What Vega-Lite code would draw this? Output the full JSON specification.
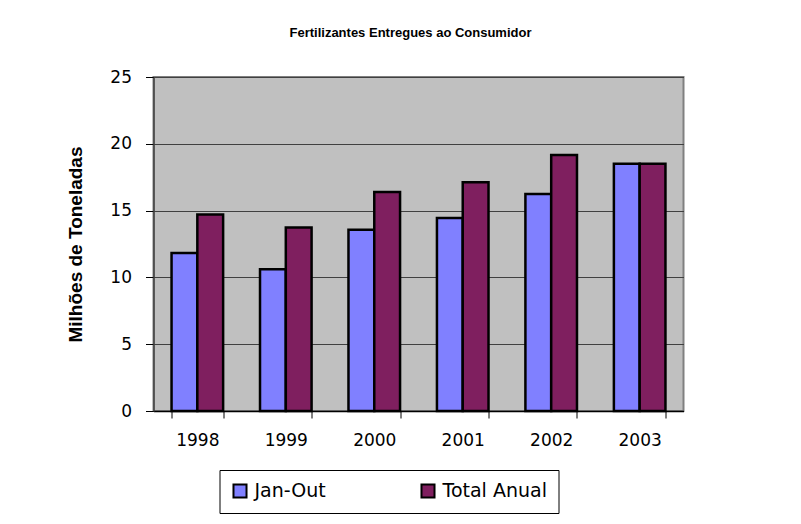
{
  "$schema": "https://vega.github.io/schema/vega-lite/v6.json",
  "width": 530,
  "height": 334,
  "autosize": "none",
  "padding": {"left": 153.5, "top": 77, "right": 117.5, "bottom": 113},
  "background": "white",
  "title": {
    "text": "Fertilizantes Entregues ao Consumidor",
    "font": "Liberation Sans",
    "fontSize": 13,
    "fontWeight": "bold",
    "color": "black",
    "anchor": "middle",
    "offset": 28,
    "dx": -8
  },
  "data": {
    "values": [
      {"ano": "1998", "serie": "Jan-Out", "valor": 11.83},
      {"ano": "1998", "serie": "Total Anual", "valor": 14.70},
      {"ano": "1999", "serie": "Jan-Out", "valor": 10.61},
      {"ano": "1999", "serie": "Total Anual", "valor": 13.73},
      {"ano": "2000", "serie": "Jan-Out", "valor": 13.56},
      {"ano": "2000", "serie": "Total Anual", "valor": 16.40},
      {"ano": "2001", "serie": "Jan-Out", "valor": 14.45},
      {"ano": "2001", "serie": "Total Anual", "valor": 17.12},
      {"ano": "2002", "serie": "Jan-Out", "valor": 16.25},
      {"ano": "2002", "serie": "Total Anual", "valor": 19.17},
      {"ano": "2003", "serie": "Jan-Out", "valor": 18.50},
      {"ano": "2003", "serie": "Total Anual", "valor": 18.50}
    ]
  },
  "mark": {"type": "bar", "stroke": "black", "strokeWidth": 2.5},
  "encoding": {
    "x": {
      "field": "ano",
      "type": "nominal",
      "scale": {"paddingInner": 0.417, "paddingOuter": 0.204},
      "axis": {
        "title": null,
        "labelAngle": 0,
        "tickBand": "extent",
        "labelFont": "DejaVu Sans",
        "labelFontSize": 17,
        "labelColor": "black",
        "labelPadding": 14,
        "tickColor": "black",
        "tickSize": 7,
        "domainColor": "black",
        "domainWidth": 1.5,
        "grid": false
      }
    },
    "xOffset": {
      "field": "serie",
      "type": "nominal",
      "scale": {"domain": ["Jan-Out", "Total Anual"], "paddingInner": 0, "paddingOuter": 0}
    },
    "y": {
      "field": "valor",
      "type": "quantitative",
      "scale": {"domain": [0, 25], "nice": false},
      "axis": {
        "title": "Milhões de Toneladas",
        "titleFont": "Liberation Sans",
        "titleFontSize": 19,
        "titleFontWeight": "bold",
        "titleColor": "black",
        "titlePadding": 24,
        "values": [0, 5, 10, 15, 20, 25],
        "labelFont": "DejaVu Sans",
        "labelFontSize": 17,
        "labelColor": "black",
        "labelPadding": 14,
        "tickColor": "black",
        "tickSize": 8,
        "domainColor": "#404040",
        "domainWidth": 1.5,
        "grid": true,
        "gridColor": "#404040",
        "gridWidth": 1.2
      }
    },
    "color": {
      "field": "serie",
      "type": "nominal",
      "scale": {"domain": ["Jan-Out", "Total Anual"], "range": ["#8080FF", "#7F1F5F"]},
      "legend": {
        "title": null,
        "orient": "none",
        "legendX": 66,
        "legendY": 393,
        "direction": "horizontal",
        "strokeColor": "black",
        "fillColor": "white",
        "padding": 11,
        "symbolType": "square",
        "symbolSize": 170,
        "symbolStrokeColor": "black",
        "symbolStrokeWidth": 2,
        "labelFont": "DejaVu Sans",
        "labelFontSize": 19,
        "labelColor": "black",
        "labelOffset": 5,
        "columnPadding": 90
      }
    }
  },
  "config": {
    "view": {"fill": "#C0C0C0", "stroke": "#808080", "strokeWidth": 2}
  }
}
